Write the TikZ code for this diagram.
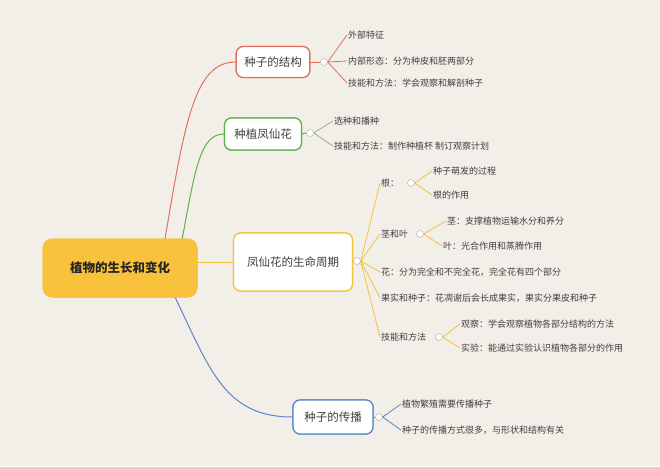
\documentclass[tikz,border=0pt]{standalone}
\usepackage{fontspec}
\setmainfont{Noto Sans CJK SC}
\definecolor{bg}{HTML}{F2EFE8}
\definecolor{rootc}{HTML}{F9C23C}
\definecolor{cr}{HTML}{E0705F}
\definecolor{cg}{HTML}{5DB14A}
\definecolor{co}{HTML}{F2C23A}
\definecolor{cb}{HTML}{5A86C8}
\definecolor{tx}{HTML}{404040}
\definecolor{lg}{HTML}{9AAE8A}
\begin{document}
\begin{tikzpicture}[x=1pt,y=-1pt,
 leaf/.style={anchor=west,inner sep=1pt,font=\fontsize{9}{10}\selectfont,text=tx},
 br/.style={draw=#1,line width=1.2pt,fill=white,rounded corners=7pt,font=\fontsize{11.5}{13}\selectfont,text=tx,inner xsep=8pt,inner ysep=0pt},
 tog/.style={circle,draw=gray!70,fill=white,inner sep=0pt,minimum size=7pt},
 ln/.style={line width=1pt,#1}]
\fill[bg] (0,0) rectangle (660,466);
\useasboundingbox (0,0) rectangle (660,466);
% root
\node[fill=rootc,rounded corners=10pt,minimum width=155pt,minimum height=59pt,font=\bfseries\fontsize{12.5}{14}\selectfont,text=black!85] (root) at (120,268) {植物的生长和变化};
% branches
\node[br=cr,minimum width=70pt,minimum height=31pt] (b1) at (273,62) {种子的结构};
\node[br=cg,minimum width=77pt,minimum height=32pt] (b2) at (263,134) {种植凤仙花};
\node[br=co,minimum width=119pt,minimum height=58pt] (b3) at (293,262) {凤仙花的生命周期};
\node[br=cb,minimum width=80pt,minimum height=34pt] (b4) at (333,417) {种子的传播};
\draw[ln=cr] (165,239) .. controls (185,120) and (195,62) .. (b1.west);
\draw[ln=cg] (182,240) .. controls (195,170) and (200,134) .. (b2.west);
\draw[ln=co] (197,262) -- (b3.west);
\draw[ln=cb] (175,297) .. controls (210,370) and (225,417) .. (b4.west);
% redraw root on top
\node[fill=rootc,rounded corners=10pt,minimum width=155pt,minimum height=59pt,font=\bfseries\fontsize{12.5}{14}\selectfont,text=black!85] at (120,268) {植物的生长和变化};
% toggles
\node[tog] (t1) at (324,62) {};
\node[tog] (t2) at (310,133) {};
\node[tog] (t3) at (357,261) {};
\node[tog] (t4) at (379,417) {};
\draw[ln=cr] (b1.east) -- (t1.west);
\draw[ln=cg] (b2.east) -- (t2.west);
\draw[ln=co] (b3.east) -- (t3.west);
\draw[ln=cb] (b4.east) -- (t4.west);
% branch 1 leaves
\node[leaf] (l11) at (347,35) {外部特征};
\node[leaf] (l12) at (347,61) {内部形态：分为种皮和胚两部分};
\node[leaf] (l13) at (347,83) {技能和方法：学会观察和解剖种子};
\foreach \n in {l11,l12,l13} \draw[ln=cr,line width=0.8pt] (t1.east) -- (\n.west);
% branch 2 leaves
\node[leaf] (l21) at (333,121) {选种和播种};
\node[leaf] (l22) at (333,146) {技能和方法：制作种植杯 制订观察计划};
\foreach \n in {l21,l22} \draw[lg,line width=0.8pt] (t2.east) -- (\n.west);
% branch 3
\node[leaf] (l31) at (380,183) {根：};
\node[leaf] (l32) at (380,234) {茎和叶};
\node[leaf] (l33) at (380,272) {花：分为完全和不完全花，完全花有四个部分};
\node[leaf] (l34) at (380,298) {果实和种子：花凋谢后会长成果实，果实分果皮和种子};
\node[leaf] (l35) at (380,337) {技能和方法};
\foreach \n in {l31,l32,l33,l34,l35} \draw[ln=co,line width=0.8pt] (t3.east) -- (\n.west);
\node[tog] (t31) at (411,183) {};
\node[tog] (t32) at (420,234) {};
\node[tog] (t35) at (439,337) {};
\node[leaf] (l311) at (432,171) {种子萌发的过程};
\node[leaf] (l312) at (432,195) {根的作用};
\node[leaf] (l321) at (446,221) {茎：支撑植物运输水分和养分};
\node[leaf] (l322) at (442,246) {叶：光合作用和蒸腾作用};
\node[leaf] (l351) at (460,324) {观察：学会观察植物各部分结构的方法};
\node[leaf] (l352) at (460,348) {实验：能通过实验认识植物各部分的作用};
\foreach \n in {l311,l312} \draw[ln=co,line width=0.8pt] (t31.east) -- (\n.west);
\foreach \n in {l321,l322} \draw[ln=co,line width=0.8pt] (t32.east) -- (\n.west);
\foreach \n in {l351,l352} \draw[ln=co,line width=0.8pt] (t35.east) -- (\n.west);
% branch 4
\node[leaf] (l41) at (401,404) {植物繁殖需要传播种子};
\node[leaf] (l42) at (401,430) {种子的传播方式很多，与形状和结构有关};
\foreach \n in {l41,l42} \draw[line width=0.8pt,color=cb!80!gray] (t4.east) -- (\n.west);
% redraw branch boxes on top of connectors
\node[br=cr,minimum width=70pt,minimum height=31pt] at (273,62) {种子的结构};
\node[br=cg,minimum width=77pt,minimum height=32pt] at (263,134) {种植凤仙花};
\node[br=co,minimum width=119pt,minimum height=58pt] at (293,262) {凤仙花的生命周期};
\node[br=cb,minimum width=80pt,minimum height=34pt] at (333,417) {种子的传播};
\end{tikzpicture}
\end{document}
